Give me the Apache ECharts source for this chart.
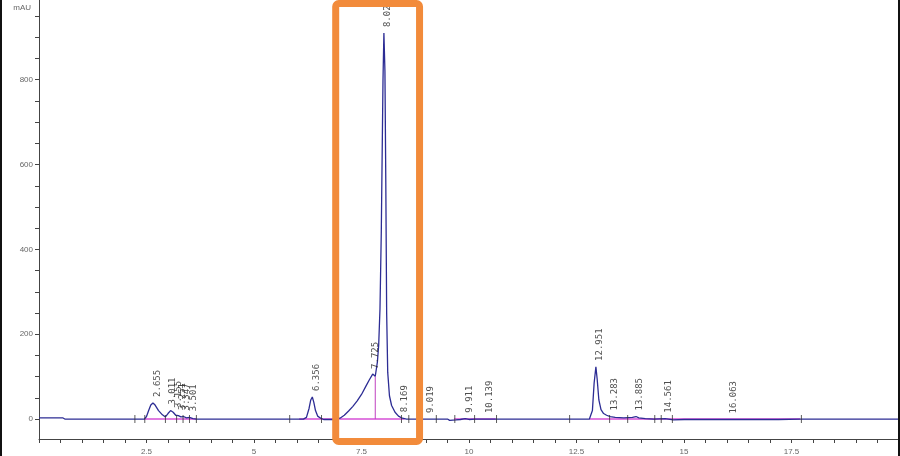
<!DOCTYPE html>
<html>
<head>
<meta charset="utf-8">
<script src="https://cdn.jsdelivr.net/npm/echarts@6/dist/echarts.min.js"></script>
<style>
  html, body { margin: 0; padding: 0; background: #fff; }
  #main { width: 900px; height: 456px; }
</style>
</head>
<body>
<div id="main"></div>
<script>
// chromatogram trace (time in min, signal in mAU)
var traceTime = [0, 0.55, 0.6, 2.2, 2.45, 2.5, 2.55, 2.6, 2.65, 2.7, 2.78, 2.87, 2.94, 3.0, 3.06, 3.12, 3.18, 3.24, 3.3, 3.36,
    3.43, 3.5, 3.58, 3.66, 6.15, 6.22, 6.28, 6.32, 6.356, 6.39, 6.43, 6.48, 6.55, 6.62, 6.9, 7.0, 7.1, 7.2, 7.3, 7.4,
    7.5, 7.6, 7.68, 7.76, 7.82, 7.87, 7.9, 7.93, 7.96, 7.98, 8.0, 8.021, 8.045, 8.065, 8.085, 8.11, 8.15, 8.2, 8.28, 8.36,
    8.45, 8.55, 9.5, 9.55, 9.7, 9.8, 9.911, 10.0, 10.139, 10.3, 10.65, 12.8, 12.87, 12.91, 12.951, 12.98, 13.02, 13.07, 13.13, 13.2,
    13.283, 13.4, 13.6, 13.8, 13.885, 13.95, 14.1, 14.3, 14.561, 14.6, 14.75, 15.0, 15.3, 15.6, 16.063, 16.5, 17.2, 17.7, 20];
var traceMAU = [3, 3, 0, 0, 0, 6, 20, 33, 38, 33, 20, 10, 5, 13, 20, 16, 9, 8, 5, 6,
    3, 4, 1, 0, 0, 4, 25, 45, 52, 40, 20, 7, 2, -1, -1, 2, 9, 19, 30, 43,
    58, 77, 92, 106, 101, 135, 175, 260, 440, 620, 800, 910, 820, 560, 250, 110, 55, 32, 16, 7,
    2, 0, 0, -3, -2, -1, 1, -1, 0, 0, 0, 0, 20, 85, 123, 95, 45, 22, 13, 9,
    6, 4, 3, 4, 6, 3, 1, 0, 1, -1, -2, -1, -1, -1, -1, -1, -1, 0, 0];

// peak labels
var peakNames = ['2.655', '3.011', '3.155', '3.251', '3.347', '3.501', '6.356', '7.725', '8.021', '8.169',
    '9.019', '9.911', '10.139', '12.951', '13.283', '13.885', '14.561', '16.063'];
var peakTimes = [2.655, 3.011, 3.155, 3.251, 3.347, 3.501, 6.356, 7.725, 8.021, 8.169,
    9.019, 9.911, 10.139, 12.951, 13.283, 13.885, 14.561, 16.063];
var peakHeights = [38, 20, 12, 7, 6, 4, 52, 104, 910, 2, 0, 1, 0, 123, 6, 6, 1, -1];

// integration baselines [start, end] and the drop line under the shoulder
var baselineStarts = [2.45, 6.05, 9.65, 12.8];
var baselineEnds = [3.66, 8.5, 10.62, 17.7];
var dropTime = 7.82;
var dropHeight = 101;

// peak start/stop marks on the baseline
var markTimes = [2.23, 2.46, 2.94, 3.2, 3.35, 3.5, 3.66, 5.83, 6.57, 8.43, 8.6, 9.24, 9.67, 10.13, 10.64,
    12.34, 13.27, 13.69, 14.32, 14.47, 14.73, 17.73];

// axis ticks
var xLabels = [2.5, 5, 7.5, 10, 12.5, 15, 17.5];
var yLabels = [0, 200, 400, 600, 800];
var yTicks = [0, 50, 100, 150, 200, 250, 300, 350, 400, 450, 500, 550, 600, 650, 700, 750, 800, 850, 900, 950];

// highlighted window (min)
var boxRange = [6.9, 8.85];

var chart = echarts.init(document.getElementById('main'));

var trace = traceTime.map(function (t, i) { return [t, traceMAU[i]]; });

var baseSeries = baselineStarts.map(function (s, i) {
    return {
        type: 'line', data: [[s, 0], [baselineEnds[i], 0]],
        symbol: 'none', silent: true, z: 2,
        lineStyle: { color: '#d64fd6', width: 1.5 }
    };
});

// some labels were pushed right in the original to avoid overlap
var labelNudge = { '8.169': 10, '10.139': 11 };

var peakData = peakNames.map(function (n, i) {
    return {
        name: n,
        value: [peakTimes[i], peakHeights[i]],
        label: { offset: [6, 4 + (labelNudge[n] || 0)] }
    };
});

var option = {
    animation: false,
    grid: { left: 39, right: 1, top: 0, bottom: 17, outerBoundsMode: 'none' },
    xAxis: {
        type: 'value', min: 0, max: 20, interval: 0.5,
        name: 'min', nameLocation: 'end', nameGap: -10,
        nameTextStyle: { color: '#666', fontSize: 8, verticalAlign: 'top', padding: [16, 0, 0, 0] },
        splitLine: { show: false },
        axisLine: { onZero: false, lineStyle: { color: '#444', width: 1 } },
        axisTick: { length: 4, lineStyle: { color: '#444' } },
        axisLabel: { customValues: xLabels, color: '#666', fontSize: 8, margin: 9, fontFamily: 'Liberation Sans' }
    },
    yAxis: {
        type: 'value', min: -47, max: 988,
        name: 'mAU', nameLocation: 'end', nameGap: -12,
        nameTextStyle: { color: '#666', fontSize: 8, align: 'right', padding: [0, 8, 0, 0] },
        splitLine: { show: false },
        axisLine: { onZero: false, lineStyle: { color: '#444', width: 1 } },
        axisTick: { customValues: yTicks, length: 4, lineStyle: { color: '#444' } },
        axisLabel: { customValues: yLabels, color: '#666', fontSize: 8, margin: 6, fontFamily: 'Liberation Sans' }
    },
    series: baseSeries.concat([
        {
            type: 'line', data: trace, symbol: 'none', z: 3,
            lineStyle: { color: '#2c2c94', width: 1.3 }
        },
        {
            type: 'line', data: [[dropTime, 0], [dropTime, dropHeight]],
            symbol: 'none', z: 2,
            lineStyle: { color: '#c040c0', width: 1 }
        },
        {
            type: 'scatter', z: 4,
            data: markTimes.map(function (t) { return [t, 0]; }),
            symbol: 'rect', symbolSize: [1, 8],
            itemStyle: { color: '#333' }
        },
        {
            type: 'scatter', z: 5,
            data: peakData,
            symbolSize: 0,
            label: {
                show: true, position: 'top', distance: 0, rotate: 90,
                align: 'left', verticalAlign: 'middle',
                formatter: function (p) { return p.name; },
                fontFamily: 'DejaVu Sans Mono', fontSize: 9, color: '#222'
            }
        }
    ])
};

chart.setOption(option);

// orange highlight box and the screenshot frame edges
var bx0 = chart.convertToPixel({ xAxisIndex: 0 }, boxRange[0]);
var bx1 = chart.convertToPixel({ xAxisIndex: 0 }, boxRange[1]);
chart.setOption({
    graphic: [
        {
            type: 'rect', z: 100,
            shape: { x: bx0, y: 3.5, width: bx1 - bx0, height: 438, r: 3 },
            style: { fill: 'none', stroke: '#f28b3b', lineWidth: 7 }
        },
        {
            type: 'line', z: 100,
            shape: { x1: 1, y1: 0, x2: 1, y2: 456 },
            style: { stroke: '#111', lineWidth: 2 }
        },
        {
            type: 'line', z: 100,
            shape: { x1: 899, y1: 0, x2: 899, y2: 456 },
            style: { stroke: '#111', lineWidth: 2 }
        }
    ]
});
</script>
</body>
</html>
